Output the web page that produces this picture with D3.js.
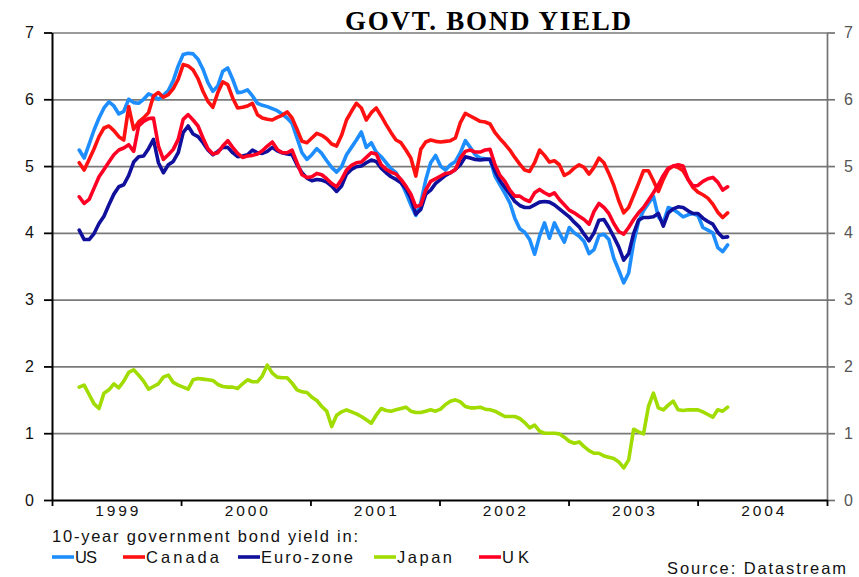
<!DOCTYPE html>
<html>
<head>
<meta charset="utf-8">
<title>Govt. bond yield</title>
<script src="https://cdn.jsdelivr.net/npm/d3@7"></script>
<style>
  html, body { margin: 0; padding: 0; background: #ffffff; }
  svg { display: block; }
</style>
</head>
<body>
<svg id="chart" width="859" height="577"></svg>
<script>
// Fortnightly observations of 10-year government bond yields (%)
const firstObservation = "1999-03-19";
const observationStepDays = 14;

const yieldTicks = [0, 1, 2, 3, 4, 5, 6, 7];
const yearLabels = ["1999", "2000", "2001", "2002", "2003", "2004"];

const usYield = [
  5.24, 5.12, 5.33, 5.54, 5.72, 5.87, 5.96, 5.90, 5.78, 5.82,
  6.00, 5.95, 5.94, 6.00, 6.08, 6.05, 6.00, 6.06, 6.13, 6.28,
  6.50, 6.67, 6.69, 6.68, 6.60, 6.45, 6.25, 6.12, 6.20, 6.42,
  6.47, 6.30, 6.10, 6.11, 6.14, 6.05, 5.94, 5.91, 5.89, 5.86,
  5.83, 5.78, 5.72, 5.64, 5.42, 5.20, 5.10, 5.17, 5.26, 5.19,
  5.08, 4.98, 4.91, 4.99, 5.17, 5.28, 5.39, 5.51, 5.28, 5.35,
  5.21, 5.14, 5.05, 4.96, 4.90, 4.77, 4.60, 4.42, 4.26, 4.45,
  4.79, 5.05, 5.16, 5.00, 4.94, 5.02, 5.07, 5.20, 5.38, 5.28,
  5.17, 5.12, 5.11, 5.10, 4.85, 4.72, 4.59, 4.45, 4.22, 4.06,
  4.01, 3.90, 3.68, 3.95, 4.15, 3.92, 4.15, 4.00, 3.86, 4.08,
  4.00, 3.95, 3.87, 3.69, 3.75, 3.96, 3.98, 3.90, 3.62, 3.44,
  3.25, 3.40, 3.85, 4.17, 4.33, 4.44, 4.55, 4.24, 4.15, 4.38,
  4.35, 4.30, 4.24, 4.27, 4.29, 4.26, 4.08, 4.04, 4.00, 3.78,
  3.72, 3.82
];

const canadaYield = [
  5.05, 4.94, 5.10, 5.26, 5.44, 5.57, 5.60, 5.53, 5.44, 5.39,
  5.89, 5.55, 5.66, 5.72, 5.80, 6.05, 6.10, 6.03, 6.07, 6.16,
  6.30, 6.52, 6.50, 6.44, 6.31, 6.12, 5.97, 5.88, 6.10, 6.26,
  6.22, 6.02, 5.87, 5.88, 5.90, 5.94, 5.77, 5.72, 5.70, 5.69,
  5.73, 5.76, 5.81, 5.72, 5.55, 5.37, 5.35, 5.42, 5.49, 5.46,
  5.41, 5.33, 5.30, 5.46, 5.69, 5.82, 5.94, 5.87, 5.69, 5.80,
  5.87, 5.75, 5.62, 5.50, 5.39, 5.35, 5.24, 5.12, 4.85, 5.25,
  5.36, 5.39, 5.37, 5.36, 5.37, 5.38, 5.42, 5.65, 5.79, 5.75,
  5.71, 5.67, 5.66, 5.63, 5.50, 5.41, 5.33, 5.24, 5.13, 5.03,
  4.94, 4.92, 5.05, 5.24, 5.16, 5.06, 5.08, 5.02, 4.86, 4.90,
  4.97, 5.02, 4.98, 4.88, 4.98, 5.12, 5.05, 4.89, 4.71, 4.48,
  4.30, 4.38, 4.56, 4.74, 4.93, 4.93, 4.78, 4.62, 4.80, 4.95,
  5.00, 4.98, 4.93, 4.80, 4.68, 4.61, 4.57, 4.52, 4.43, 4.31,
  4.23, 4.30
];

const euroYield = [
  4.04, 3.90, 3.90, 3.99, 4.14, 4.25, 4.42, 4.58, 4.69, 4.72,
  4.86, 5.06, 5.14, 5.15, 5.26, 5.40, 5.05, 4.90, 5.02, 5.07,
  5.20, 5.50, 5.60, 5.48, 5.44, 5.35, 5.24, 5.17, 5.22, 5.28,
  5.28, 5.20, 5.14, 5.15, 5.17, 5.24, 5.20, 5.19, 5.22, 5.28,
  5.23, 5.20, 5.18, 5.17, 5.02, 4.90, 4.82, 4.78, 4.80, 4.79,
  4.76, 4.70, 4.62, 4.70, 4.88, 4.95, 4.99, 5.00, 5.05, 5.09,
  5.07, 4.97, 4.90, 4.84, 4.80, 4.75, 4.66, 4.52, 4.28, 4.35,
  4.58, 4.64, 4.74, 4.80, 4.86, 4.90, 4.95, 5.02, 5.14, 5.12,
  5.10, 5.09, 5.10, 5.10, 4.92, 4.78, 4.68, 4.58, 4.47, 4.41,
  4.38, 4.38, 4.42, 4.46, 4.47, 4.46, 4.42, 4.36, 4.30, 4.24,
  4.16, 4.09, 3.98, 3.88, 4.00, 4.19, 4.20, 4.08, 3.94, 3.79,
  3.59, 3.69, 3.99, 4.19, 4.23, 4.23, 4.24, 4.29, 4.10, 4.30,
  4.36, 4.39, 4.38, 4.33, 4.29, 4.29, 4.22, 4.17, 4.13, 4.01,
  3.93, 3.94
];

const japanYield = [
  1.69, 1.72, 1.58, 1.44, 1.37, 1.60, 1.65, 1.74, 1.68, 1.78,
  1.91, 1.95, 1.87, 1.78, 1.66, 1.70, 1.74, 1.84, 1.87, 1.76,
  1.72, 1.69, 1.66, 1.80, 1.82, 1.81, 1.80, 1.79, 1.73, 1.70,
  1.69, 1.69, 1.67, 1.74, 1.80, 1.77, 1.77, 1.86, 2.02, 1.90,
  1.84, 1.83, 1.83, 1.75, 1.65, 1.62, 1.61, 1.54, 1.49, 1.40,
  1.33, 1.10, 1.27, 1.32, 1.35, 1.32, 1.29, 1.25, 1.20, 1.15,
  1.27, 1.37, 1.34, 1.33, 1.35, 1.37, 1.39, 1.33, 1.31, 1.31,
  1.33, 1.35, 1.33, 1.36, 1.43, 1.48, 1.50, 1.47, 1.40, 1.38,
  1.38, 1.39, 1.36, 1.35, 1.33, 1.29, 1.25, 1.25, 1.25, 1.22,
  1.16, 1.08, 1.12, 1.03, 1.00, 1.00, 1.00, 0.99, 0.94, 0.88,
  0.85, 0.87, 0.80, 0.74, 0.70, 0.70, 0.66, 0.64, 0.62, 0.57,
  0.48, 0.60, 1.06, 1.02, 0.99, 1.40, 1.60, 1.38, 1.35, 1.42,
  1.48, 1.35, 1.34, 1.35, 1.35, 1.35, 1.32, 1.28, 1.24, 1.35,
  1.33, 1.39
];

const ukYield = [
  4.54, 4.44, 4.50, 4.67, 4.84, 4.95, 5.06, 5.17, 5.24, 5.27,
  5.32, 5.22, 5.60, 5.67, 5.71, 5.72, 5.30, 5.10, 5.17, 5.25,
  5.40, 5.70, 5.77, 5.69, 5.60, 5.42, 5.26, 5.18, 5.20, 5.30,
  5.38, 5.28, 5.19, 5.13, 5.15, 5.16, 5.18, 5.23, 5.30, 5.36,
  5.25, 5.20, 5.20, 5.24, 5.05, 4.87, 4.83, 4.84, 4.89, 4.87,
  4.81, 4.74, 4.69, 4.80, 4.94, 5.01, 5.05, 5.06, 5.13, 5.20,
  5.18, 5.02, 4.95, 4.91, 4.88, 4.80, 4.70, 4.58, 4.39, 4.42,
  4.64, 4.77, 4.81, 4.85, 4.89, 4.90, 4.95, 5.12, 5.22, 5.24,
  5.21, 5.21, 5.24, 5.25, 5.02, 4.86, 4.77, 4.64, 4.55, 4.55,
  4.50, 4.47, 4.60, 4.65, 4.60, 4.56, 4.60, 4.50, 4.42, 4.34,
  4.30, 4.25, 4.20, 4.13, 4.32, 4.44, 4.38, 4.29, 4.14, 4.02,
  3.98, 4.08, 4.20, 4.30, 4.38, 4.49, 4.60, 4.72, 4.86, 4.97,
  5.00, 5.02, 5.00, 4.80, 4.70, 4.71, 4.77, 4.81, 4.83, 4.76,
  4.64, 4.69
];

const seriesList = [
  { name: "US",        color: "#1e8eff", values: usYield },
  { name: "Canada",    color: "#ff1111", values: canadaYield },
  { name: "Euro-zone", color: "#10109c", values: euroYield },
  { name: "Japan",     color: "#a0dc00", values: japanYield },
  { name: "UK",        color: "#ff0024", values: ukYield }
];

const svg = d3.select("#chart");
const sansFont = "'Liberation Sans', Arial, Helvetica, sans-serif";

const plot = { left: 52, right: 827, top: 32.5, bottom: 500 };

// Spread a text's letters so that it spans the given width.
function spreadTo(selection, width) {
  selection.each(function () {
    this.style.letterSpacing = "0px";
    const natural = this.getComputedTextLength();
    const n = this.getNumberOfChars();
    const gap = (width - natural) / Math.max(1, n - 1);
    this.style.letterSpacing = gap + "px";
  });
}

const start = d3.timeParse("%Y-%m-%d")(firstObservation);
const dates = usYield.map((_, i) => d3.timeDay.offset(start, i * observationStepDays));

const x = d3.scaleTime()
  .domain([new Date(1999, 0, 1), new Date(2005, 0, 1)])
  .range([plot.left, plot.right]);

const y = d3.scaleLinear()
  .domain([0, 7])
  .range([plot.bottom, plot.top]);

const wholeNumber = d3.format("d");

// horizontal gridlines
svg.append("g")
  .attr("transform", `translate(${plot.left},0)`)
  .call(d3.axisLeft(y)
    .tickValues(yieldTicks.filter(v => v > 0))
    .tickSize(-(plot.right - plot.left))
    .tickFormat(""))
  .call(g => g.select(".domain").remove())
  .selectAll("line")
  .attr("stroke", "#7a7a7a")
  .attr("stroke-width", 1.7);

// yield lines
const line = d3.line()
  .x((d, i) => x(dates[i]))
  .y(d => y(d));

svg.append("g")
  .selectAll("path")
  .data(seriesList)
  .join("path")
  .attr("d", s => line(s.values))
  .attr("fill", "none")
  .attr("stroke", s => s.color)
  .attr("stroke-width", 3.6)
  .attr("stroke-linejoin", "round")
  .attr("stroke-linecap", "round");

// left value axis
svg.append("g")
  .attr("transform", `translate(${plot.left},0)`)
  .call(d3.axisLeft(y).tickValues(yieldTicks).tickFormat(wholeNumber)
    .tickSize(8).tickSizeOuter(0).tickPadding(10))
  .call(g => g.select(".domain").attr("stroke", "#000").attr("stroke-width", 2))
  .call(g => g.selectAll(".tick line").attr("stroke", "#000").attr("stroke-width", 1.8))
  .call(g => g.selectAll("text")
    .attr("fill", "#111")
    .style("font-family", sansFont)
    .style("font-size", "16px"));

// right value axis
svg.append("g")
  .attr("transform", `translate(${plot.right},0)`)
  .call(d3.axisRight(y).tickValues(yieldTicks).tickFormat(wholeNumber)
    .tickSize(8).tickSizeOuter(0).tickPadding(9))
  .call(g => g.select(".domain").attr("stroke", "#737373").attr("stroke-width", 1.7))
  .call(g => g.selectAll(".tick line").attr("stroke", "#737373").attr("stroke-width", 1.7))
  .call(g => g.selectAll("text")
    .attr("fill", "#555")
    .style("font-family", sansFont)
    .style("font-size", "16px"));

// time axis: ticks at each year boundary, labels centred within each year
const yearStarts = d3.range(1999, 2006).map(yr => new Date(yr, 0, 1));
const midYears = yearLabels.map(lbl => new Date(+lbl, 6, 2));

svg.append("g")
  .attr("transform", `translate(0,${plot.bottom})`)
  .call(d3.axisBottom(x).tickValues(yearStarts).tickSize(6).tickSizeOuter(0).tickFormat(""))
  .call(g => g.select(".domain").attr("stroke", "#000").attr("stroke-width", 2))
  .call(g => g.selectAll(".tick line").attr("stroke", "#000").attr("stroke-width", 1.8));

svg.append("g")
  .attr("transform", `translate(0,${plot.bottom})`)
  .call(d3.axisBottom(x).tickValues(midYears).tickSize(0).tickPadding(5)
    .tickFormat((d, i) => yearLabels[i]))
  .call(g => g.select(".domain").remove())
  .call(g => g.selectAll("text")
    .attr("fill", "#111")
    .attr("text-anchor", "start")
    .attr("dx", -21.5)
    .style("font-family", sansFont)
    .style("font-size", "15.5px")
    .call(spreadTo, 43));

// title
svg.append("text")
  .attr("x", 345)
  .attr("y", 29.5)
  .style("font-family", "'Liberation Serif', 'Times New Roman', serif")
  .style("font-weight", "bold")
  .style("font-size", "27px")
  .attr("fill", "#000")
  .text("GOVT. BOND YIELD")
  .call(spreadTo, 286);

// legend
const legend = svg.append("g")
  .style("font-family", sansFont)
  .style("font-size", "16.5px")
  .attr("fill", "#111");

legend.append("text")
  .attr("x", 52)
  .attr("y", 542)
  .text("10-year government bond yield in:")
  .call(spreadTo, 306);

const legendSlots = [52, 123, 238, 374, 479];
const legendTextWidths = [22, 73, 92, 55, 27];
const legendItems = legend.selectAll("g.item")
  .data(seriesList)
  .join("g")
  .attr("class", "item")
  .attr("transform", (s, i) => `translate(${legendSlots[i]},0)`);

legendItems.append("line")
  .attr("x1", 0).attr("x2", 22)
  .attr("y1", 557).attr("y2", 557)
  .attr("stroke", s => s.color)
  .attr("stroke-width", 3.6);

legendItems.append("text")
  .attr("x", 23)
  .attr("y", 563)
  .text(s => s.name)
  .each(function (s, i) { d3.select(this).call(spreadTo, legendTextWidths[i]); });

svg.append("text")
  .attr("x", 667)
  .attr("y", 574)
  .style("font-family", sansFont)
  .style("font-size", "16.5px")
  .attr("fill", "#111")
  .text("Source: Datastream")
  .call(spreadTo, 179);
</script>
</body>
</html>
